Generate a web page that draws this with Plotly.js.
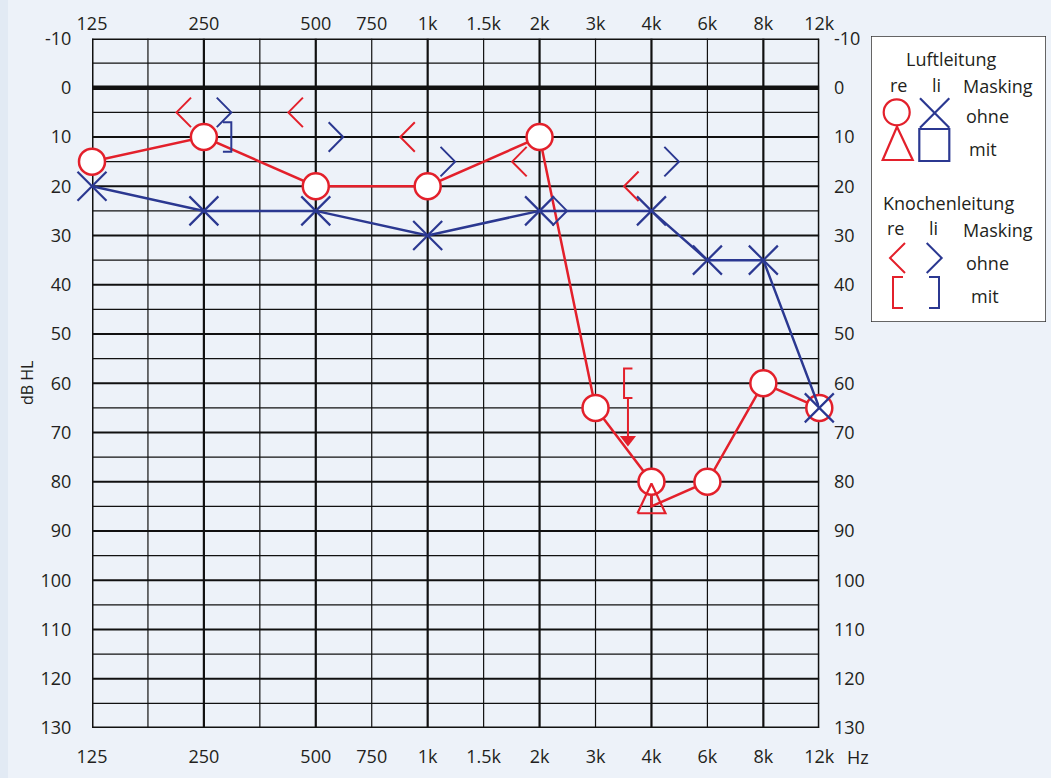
<!DOCTYPE html>
<html><head><meta charset="utf-8">
<script src="https://cdn.plot.ly/plotly-3.0.1.min.js"></script>
<style>html,body{margin:0;padding:0;background:#edf2f9;}#chart{width:1051px;height:778px;}</style>
</head><body><div id="chart"></div>
<script>
// ---- axis definitions ----
const tickFreqs = [125, 250, 500, 750, 1000, 1500, 2000, 3000, 4000, 6000, 8000, 12000];
const tickLabels = ['125', '250', '500', '750', '1k', '1.5k', '2k', '3k', '4k', '6k', '8k', '12k'];
const dbTicks = [-10, 0, 10, 20, 30, 40, 50, 60, 70, 80, 90, 100, 110, 120, 130];
const dbTickLabels = ['-10', '0', '10', '20', '30', '40', '50', '60', '70', '80', '90', '100', '110', '120', '130'];

// ---- data (dB HL) ----
// Luftleitung rechts (ohne Masking)
const acRightFreq = [125, 250, 500, 1000, 2000, 3000, 4000, 6000, 8000, 12000];
const acRightDb   = [15, 10, 20, 20, 10, 65, 80, 80, 60, 65];
// Luftleitung rechts (mit Masking)
const acRightMaskedFreq = [4000];
const acRightMaskedDb   = [85];
// Luftleitung links (ohne Masking)
const acLeftFreq = [125, 250, 500, 1000, 2000, 4000, 6000, 8000, 12000];
const acLeftDb   = [20, 25, 25, 30, 25, 25, 35, 35, 65];
// Knochenleitung rechts (ohne Masking)
const bcRightFreq = [250, 500, 1000, 2000, 4000];
const bcRightDb   = [5, 5, 10, 15, 20];
// Knochenleitung links (ohne Masking)
const bcLeftFreq = [250, 500, 1000, 2000, 4000];
const bcLeftDb   = [5, 10, 15, 25, 15];
// Knochenleitung links (mit Masking)
const bcLeftMaskedFreq = [250];
const bcLeftMaskedDb   = [10];
// Knochenleitung rechts (mit Masking, keine Antwort)
const bcRightMaskedNRFreq = [4000];
const bcRightMaskedNRDb   = [60];

const RED = '#e3202b', BLUE = '#2b3891', INK = '#231f20';
const FONT = 'Open Sans, Noto Sans, sans-serif';

// audiogram frequency scale: half-octave steps from 125 Hz
function pos(f) { return Math.round(2 * Math.log2(f / 125)); }

// red air-conduction path (unmasked, then masked value at same frequency)
const redX = [], redY = [];
acRightFreq.forEach((f, i) => {
  redX.push(pos(f)); redY.push(acRightDb[i]);
  const j = acRightMaskedFreq.indexOf(f);
  if (j >= 0) { redX.push(pos(f)); redY.push(acRightMaskedDb[j]); }
});

function chevrons(freqs, dbs, dir) {
  const xs = [], ys = [];
  freqs.forEach((f, i) => {
    const vx = pos(f) + dir * 0.49, ax = vx - dir * 0.26;
    xs.push(ax, vx, ax, null); ys.push(dbs[i] - 3, dbs[i], dbs[i] + 3, null);
  });
  return {x: xs, y: ys};
}
function brackets(freqs, dbs, dir) {
  const xs = [], ys = [];
  freqs.forEach((f, i) => {
    const vx = pos(f) + dir * 0.49, sx = vx - dir * 0.15;
    xs.push(sx, vx, vx, sx, null); ys.push(dbs[i] - 3, dbs[i] - 3, dbs[i] + 3, dbs[i] + 3, null);
  });
  return {x: xs, y: ys};
}
function triangles(freqs, dbs) {
  const xs = [], ys = [];
  freqs.forEach((f, i) => {
    const p = pos(f), v = dbs[i];
    xs.push(p - 0.25, p, p + 0.25, p - 0.25, null); ys.push(v + 1.4, v - 4.65, v + 1.4, v + 1.4, null);
  });
  return {x: xs, y: ys};
}

const chR = chevrons(bcRightFreq, bcRightDb, -1);
const chL = chevrons(bcLeftFreq, bcLeftDb, 1);
const brL = brackets(bcLeftMaskedFreq, bcLeftMaskedDb, 1);
const brR = brackets(bcRightMaskedNRFreq, bcRightMaskedNRDb, -1);
const tri = triangles(acRightMaskedFreq, acRightMaskedDb);
const arrX = [], arrY = [], headX = [], headY = [];
bcRightMaskedNRFreq.forEach((f, i) => {
  const x = pos(f) - 0.42, d = bcRightMaskedNRDb[i];
  arrX.push(x, x, null); arrY.push(d + 3, d + 11, null);
  headX.push(x); headY.push(d + 11.4);
});

const base = {type: 'scatter', hoverinfo: 'skip', showlegend: false, cliponaxis: false};
const traces = [
  Object.assign({}, base, {x: redX, y: redY, mode: 'lines', line: {color: RED, width: 2.5}}),
  Object.assign({}, base, {x: acRightFreq.map(pos), y: acRightDb, mode: 'markers',
    marker: {symbol: 'circle', size: 26, color: '#ffffff', line: {color: RED, width: 2.5}}}),
  Object.assign({}, base, {x: tri.x, y: tri.y, mode: 'lines', line: {color: RED, width: 2.2}}),
  Object.assign({}, base, {x: chR.x, y: chR.y, mode: 'lines', line: {color: RED, width: 2}}),
  Object.assign({}, base, {x: brR.x, y: brR.y, mode: 'lines', line: {color: RED, width: 2}}),
  Object.assign({}, base, {x: arrX, y: arrY, mode: 'lines', line: {color: RED, width: 2}}),
  Object.assign({}, base, {x: headX, y: headY, mode: 'markers',
    marker: {symbol: 'triangle-down', size: 14, color: RED, line: {width: 0}}}),
  Object.assign({}, base, {x: acLeftFreq.map(pos), y: acLeftDb, mode: 'lines+markers',
    line: {color: BLUE, width: 2.5},
    marker: {symbol: 'x-thin-open', size: 29, color: BLUE, line: {color: BLUE, width: 2.2}}}),
  Object.assign({}, base, {x: chL.x, y: chL.y, mode: 'lines', line: {color: BLUE, width: 2}}),
  Object.assign({}, base, {x: brL.x, y: brL.y, mode: 'lines', line: {color: BLUE, width: 2}}),
  // anchors for secondary axes
  Object.assign({}, base, {x: [0], y: [0], xaxis: 'x3', yaxis: 'y3', mode: 'markers', marker: {opacity: 0}}),
  Object.assign({}, base, {x: [0], y: [0], xaxis: 'x2', yaxis: 'y2', mode: 'markers', marker: {opacity: 0}})
];

// grid
const shapes = [];
shapes.push({type: 'rect', xref: 'paper', yref: 'paper', x0: -92/954, x1: -84/954, y0: -50/692, y1: 1 + 36/692,
  fillcolor: '#e2eaf4', line: {width: 0}, layer: 'below'});
for (let k = 0; k <= 13; k++) {
  const w = (k === 0 || k === 13) ? 3 : (k % 2 === 0 ? 2.2 : 1.2);
  shapes.push({type: 'line', xref: 'x', yref: 'y', x0: k, x1: k, y0: -10, y1: 130, line: {color: '#111', width: w}, layer: 'below'});
}
for (let d = -10; d <= 130; d += 5) {
  const w = d === 0 ? 4.5 : ((d === -10 || d === 130) ? 3 : (d % 10 === 0 ? 2 : 1.2));
  shapes.push({type: 'line', xref: 'x', yref: 'y', x0: 0, x1: 13, y0: d, y1: d, line: {color: '#111', width: w}, layer: 'below'});
}
// legend box and symbols (legend axis units = pixels)
const L = (path, color, w) => ({type: 'path', xref: 'x2', yref: 'y2', path: path, line: {color: color, width: w || 2.2}});
shapes.push({type: 'rect', xref: 'x2', yref: 'y2', x0: 0, x1: 175, y0: 0, y1: 286, fillcolor: '#ffffff', line: {color: '#333', width: 1.5}, layer: 'below'});
shapes.push({type: 'circle', xref: 'x2', yref: 'y2', x0: 12.7, x1: 38.7, y0: 63.3, y1: 89.3, line: {color: RED, width: 2.2}});
shapes.push(L('M26,90.7 L41.7,124 L11.7,124 Z', RED));
shapes.push(L('M49,62.3 L78.3,91.7 M78.3,62.3 L49,91.7', BLUE));
shapes.push(L('M48.3,93 H78.3 V125 H48.3 Z', BLUE));
shapes.push(L('M34,207 L19,222 L34,237', RED, 2));
shapes.push(L('M55.7,207 L70.7,222 L55.7,237', BLUE, 2));
shapes.push(L('M32,241 H22 V272 H32', RED, 2));
shapes.push(L('M58,241 H68 V272 H58', BLUE, 2));

const T = (text, x, y) => ({xref: 'x2', yref: 'y2', x: x, y: y, text: text, showarrow: false,
  xanchor: 'center', yanchor: 'middle', font: {family: FONT, size: 18, color: INK}});
const annotations = [
  T('Luftleitung', 80.7, 23), T('re', 27, 49), T('li', 65, 49), T('Masking', 127, 50),
  T('ohne', 116, 80), T('mit', 112, 113),
  T('Knochenleitung', 77, 167), T('re', 24, 192), T('li', 62, 192), T('Masking', 127, 194),
  T('ohne', 116, 227), T('mit', 114, 260),
  {xref: 'paper', yref: 'paper', x: (27 - 92) / 954, y: (728 - 383) / 692, text: 'dB HL', textangle: -90,
   showarrow: false, xanchor: 'center', yanchor: 'middle', font: {family: FONT, size: 16, color: INK}},
  {xref: 'paper', yref: 'paper', x: (858 - 92) / 954, y: (728 - 757) / 692, text: 'Hz',
   showarrow: false, xanchor: 'center', yanchor: 'middle', font: {family: FONT, size: 18, color: INK}}
];

const tickFont = {family: FONT, size: 18, color: INK};
const xTicks = tickFreqs.map(pos);
const xDom = [0, 727.3 / 954], yDom = [0, (728 - 38.5) / 692];
const layout = {
  width: 1051, height: 778,
  margin: {l: 92, r: 5, t: 36, b: 50},
  paper_bgcolor: '#edf2f9', plot_bgcolor: 'rgba(0,0,0,0)',
  showlegend: false,
  xaxis: {domain: xDom, range: [0, 13], tickmode: 'array', tickvals: xTicks, ticktext: tickLabels,
    showgrid: false, zeroline: false, showline: false, ticks: 'outside', ticklen: 12, tickcolor: 'rgba(0,0,0,0)',
    tickfont: tickFont, anchor: 'y', fixedrange: true},
  xaxis3: {domain: xDom, range: [0, 13], overlaying: 'x', side: 'top', anchor: 'y3', tickmode: 'array',
    tickvals: xTicks, ticktext: tickLabels, showgrid: false, zeroline: false, showline: false,
    ticks: 'outside', ticklen: 0, tickcolor: 'rgba(0,0,0,0)', tickfont: tickFont},
  yaxis: {domain: yDom, range: [130, -10], tickmode: 'array', tickvals: dbTicks, ticktext: dbTickLabels,
    showgrid: false, zeroline: false, showline: false, ticks: 'outside', ticklen: 16,
    tickcolor: 'rgba(0,0,0,0)', tickfont: tickFont, anchor: 'x'},
  yaxis3: {domain: yDom, range: [130, -10], overlaying: 'y', side: 'right', anchor: 'x3', tickmode: 'array',
    tickvals: dbTicks, ticktext: dbTickLabels, showgrid: false, zeroline: false, showline: false,
    ticks: 'outside', ticklen: 10, tickcolor: 'rgba(0,0,0,0)', tickfont: tickFont},
  xaxis2: {domain: [(871 - 92) / 954, 1], range: [0, 175], visible: false, anchor: 'y2'},
  yaxis2: {domain: [(728 - 322) / 692, 1], range: [286, 0], visible: false, anchor: 'x2'},
  shapes: shapes,
  annotations: annotations
};

Plotly.newPlot('chart', traces, layout, {displayModeBar: false, staticPlot: true});
</script>
</body></html>
